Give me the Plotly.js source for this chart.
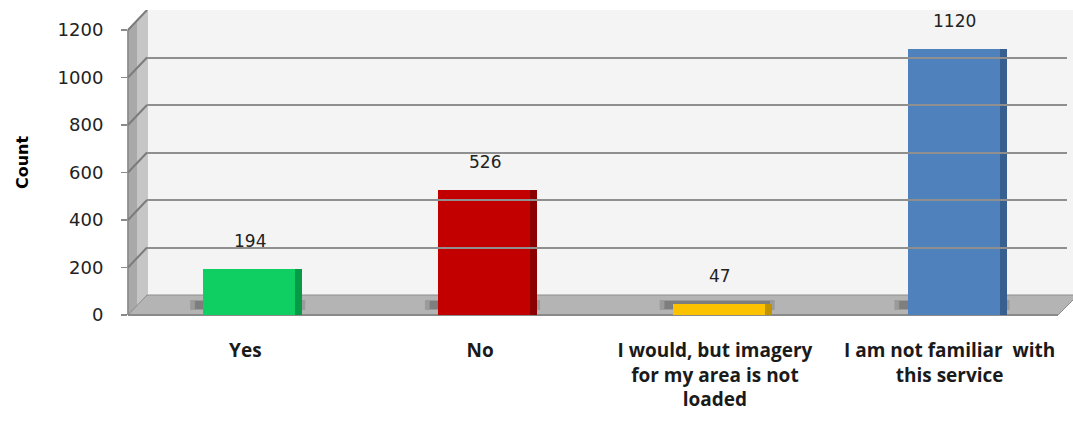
<!DOCTYPE html>
<html>
<head>
<meta charset="utf-8">
<script src="https://cdn.plot.ly/plotly-3.0.1.min.js"></script>
<style>html,body{margin:0;padding:0;background:#fff;}#chart{width:1073px;height:424px;}</style>
</head>
<body>
<div id="chart"></div>
<script>
// ---- data ----
const categories = ['Yes', 'No', 'I would, but imagery<br>for my area is not<br>loaded', 'I am not familiar  with<br>this service'];
const values = [194, 526, 47, 1120];
const frontColors = ['#0fcf62', '#c20000', '#fcc200', '#4f81bd'];
const sideColors = ['#079a47', '#8a0000', '#c29300', '#375f8f'];
const tickValues = [0, 200, 400, 600, 800, 1000, 1200];
const gridValues = [200, 400, 600, 800, 1000, 1200];

// ---- geometry (pixels) ----
const W = 1073, H = 424;
const M = {l: 128, r: 6, t: 10, b: 109};
const PW = W - M.l - M.r, PH = H - M.t - M.b;
const fx = px => (px - M.l) / PW;
const fy = py => (H - M.b - py) / PH;
const poly = pts => 'M' + pts.map(p => fx(p[0]).toFixed(5) + ',' + fy(p[1]).toFixed(5)).join(' L') + ' Z';

const depth = 19;          // 3D depth offset, px
const depthUnits = 84.2;   // same offset in value units
const catPx = PW / 4;
const barW = 92 / catPx;
const frontOffset = -barW / 2 + 4 / catPx;
const sideOffset = frontOffset + 7 / catPx;

const side = {
  type: 'bar', x: categories, y: values, width: barW, offset: sideOffset,
  marker: {color: sideColors, line: {width: 0}}, hoverinfo: 'skip', showlegend: false,
  xaxis: 'x', yaxis: 'y'
};
const front = {
  type: 'bar', x: categories, y: values, width: barW, offset: frontOffset,
  marker: {color: frontColors, line: {width: 0}}, showlegend: false,
  xaxis: 'x', yaxis: 'y'
};

const shapes = [
  // back wall
  {type: 'path', xref: 'paper', yref: 'paper', layer: 'below',
   path: poly([[M.l + depth, M.t], [W + 20, M.t], [W + 20, 295], [M.l + depth, 295]]),
   fillcolor: '#f4f4f4', line: {width: 0}},
  // left side wall (two tones to hint a gradient)
  {type: 'path', xref: 'paper', yref: 'paper', layer: 'below',
   path: poly([[M.l, 315], [M.l + depth, 295], [M.l + depth, M.t], [M.l, 30]]),
   fillcolor: '#a9a9a9', line: {color: '#9a9a9a', width: 1}},
  {type: 'path', xref: 'paper', yref: 'paper', layer: 'below',
   path: poly([[M.l + 9, 306], [M.l + depth, 295], [M.l + depth, M.t], [M.l + 9, 21]]),
   fillcolor: '#c6c6c6', line: {width: 0}},
  // floor
  {type: 'path', xref: 'paper', yref: 'paper', layer: 'below',
   path: poly([[M.l, 315], [1058, 315], [1078, 295], [M.l + depth, 295]]),
   fillcolor: '#b4b4b4', line: {color: '#8e8e8e', width: 1}},
  // floor front edge
  {type: 'line', xref: 'paper', yref: 'paper', layer: 'below',
   x0: fx(M.l), x1: fx(1058), y0: fy(315), y1: fy(315), line: {color: '#8a8a8a', width: 2}},
  // vertical axis line
  {type: 'line', xref: 'paper', yref: 'y', layer: 'below',
   x0: 0, x1: 0, y0: tickValues[0], y1: tickValues[tickValues.length - 1], line: {color: '#8a8a8a', width: 1.5}}
];
// slanted gridlines on the side wall
gridValues.forEach(v => shapes.push({
  type: 'line', xref: 'paper', yref: 'y', layer: 'below',
  x0: 0, x1: fx(M.l + depth), y0: v, y1: v + depthUnits,
  line: {color: '#7c7c7c', width: 2}
}));

// soft shadows on the floor around bar bases
values.forEach((v, i) => {
  shapes.push({
    type: 'rect', xref: 'x', yref: 'paper', layer: 'below',
    x0: i - 0.235, x1: i + 0.255, y0: fy(310), y1: fy(300),
    fillcolor: 'rgba(110,110,110,0.35)', line: {width: 0}
  });
  shapes.push({
    type: 'rect', xref: 'x', yref: 'paper', layer: 'below',
    x0: i - 0.215, x1: i + 0.235, y0: fy(309), y1: fy(301),
    fillcolor: 'rgba(90,90,90,0.45)', line: {width: 0}
  });
});

const annotations = values.map((v, i) => ({
  x: categories[i], y: v, xref: 'x', yref: 'y', text: String(v), showarrow: false,
  yanchor: 'bottom', yshift: 16, xshift: 5,
  font: {family: 'DejaVu Sans, Verdana, sans-serif', size: 17, color: '#222'}
}));

const layout = {
  width: W, height: H,
  margin: M,
  paper_bgcolor: '#ffffff',
  plot_bgcolor: 'rgba(0,0,0,0)',
  barmode: 'overlay',
  bargap: 0,
  showlegend: false,
  xaxis: {
    domain: [0, 1], type: 'category', range: [-0.5, 3.5],
    showgrid: false, zeroline: false, showline: false, ticks: '',
    ticklabelstandoff: 22,
    tickfont: {family: 'Open Sans, Liberation Sans, sans-serif', size: 19, color: '#1a1a1a', weight: 'bold'}
  },
  yaxis: {
    domain: [0, 1], range: [0, 1284],
    tickvals: tickValues, ticks: 'outside', ticklen: 6, tickcolor: '#8a8a8a', tickwidth: 1.5,
    showgrid: false, zeroline: false, showline: false,
    ticklabelstandoff: 14,
    tickfont: {family: 'DejaVu Sans, Verdana, sans-serif', size: 18, color: '#222'},
    title: {text: 'Count', standoff: 24, font: {family: 'DejaVu Sans, Verdana, sans-serif', size: 16, color: '#000', weight: 'bold'}}
  },
  xaxis2: {
    domain: [fx(M.l + depth), 1], range: [0, 1], anchor: 'y2',
    showgrid: false, zeroline: false, showline: false, showticklabels: false, ticks: ''
  },
  yaxis2: {
    domain: [0, 1], range: [-depthUnits, 1200], anchor: 'x2',
    tickvals: gridValues, showgrid: true, gridcolor: '#8f8f8f', gridwidth: 2,
    zeroline: false, showline: false, showticklabels: false, ticks: ''
  },
  shapes: shapes,
  annotations: annotations
};

// invisible trace to activate the back-wall gridline subplot
const gridHolder = {type: 'scatter', x: [], y: [], xaxis: 'x2', yaxis: 'y2', hoverinfo: 'skip', showlegend: false};

Plotly.newPlot('chart', [gridHolder, side, front], layout, {displayModeBar: false, staticPlot: true});
</script>
</body>
</html>
